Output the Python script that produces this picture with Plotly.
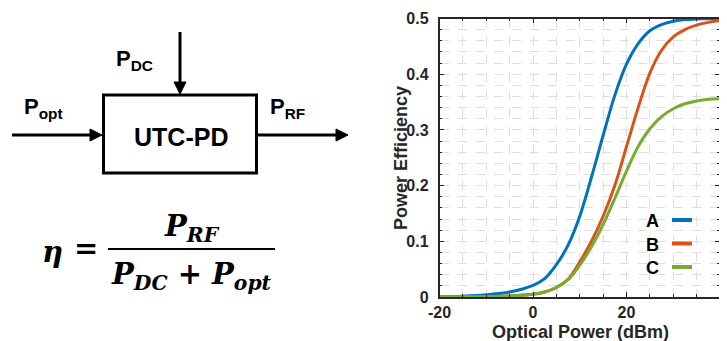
import plotly.graph_objects as go

# page body has an 8px margin: the figure is shifted by OFF inside the 727x341 window
OFF = 8
W, H = 727 - OFF, 341 - OFF

# ---------------- data ----------------
optical_power_dbm = [-20, -15, -10, -5, 0, 2.5, 5, 7.5, 10, 12.5, 15, 17.5, 20,
                     22.5, 25, 27.5, 30, 32.5, 35, 37.5, 40]
eff_A = [0.0006, 0.0015, 0.004, 0.009, 0.021, 0.033, 0.058, 0.093, 0.145, 0.215,
         0.29, 0.362, 0.418, 0.455, 0.478, 0.489, 0.495, 0.498, 0.499, 0.4995, 0.5]
eff_B = [0.0001, 0.0003, 0.0008, 0.002, 0.005, 0.009, 0.017, 0.032, 0.063, 0.1,
         0.145, 0.2, 0.27, 0.34, 0.402, 0.443, 0.467, 0.48, 0.488, 0.493, 0.496]
eff_C = [0.0001, 0.0003, 0.0008, 0.002, 0.005, 0.009, 0.017, 0.031, 0.057, 0.09,
         0.13, 0.177, 0.226, 0.27, 0.302, 0.324, 0.338, 0.347, 0.352, 0.355, 0.356]
series_names = ["A", "B", "C"]
series_colors = ["#0072BD", "#D95319", "#77AC30"]
x_ticks = [-20, 0, 20, 40]
y_ticks = [0, 0.1, 0.2, 0.3, 0.4, 0.5]

SANS = "Liberation Sans, Arial, sans-serif"
SERIF = "DejaVu Serif, serif"
INK = "#000000"
AX = "#262626"


def px(x):
    return (x - OFF) / W


def py(y):
    return 1 - (y - OFF) / H


fig = go.Figure()

for name, vals, col in zip(series_names, [eff_A, eff_B, eff_C], series_colors):
    fig.add_trace(go.Scatter(x=optical_power_dbm, y=vals, mode="lines", name=name,
                             line=dict(color=col, width=3, shape="spline", smoothing=1.0),
                             showlegend=False, hoverinfo="skip"))

grid = dict(showgrid=True, gridcolor="#dedede", griddash="dash", gridwidth=1)
fig.update_layout(
    width=W, height=H, margin=dict(l=0, r=0, t=0, b=0, pad=0),
    paper_bgcolor="white", plot_bgcolor="white",
    xaxis=dict(domain=[px(439.5), px(720)], range=[-20, 40], tickvals=x_ticks,
               ticktext=[f"<b>{v}</b>" for v in x_ticks], automargin=False,
               ticks="inside", ticklen=5, tickwidth=1.2, tickcolor=AX,
               showline=True, linecolor=AX, linewidth=1.5, mirror="ticks",
               zeroline=False, tickfont=dict(family=SANS, size=16, color=AX),
               minor=dict(dtick=5, ticks="inside", ticklen=3, tickcolor=AX, showgrid=True,
                          gridcolor="#dedede", griddash="dash"),
               **grid),
    yaxis=dict(domain=[py(297), py(18.5)], range=[0, 0.5], tickvals=y_ticks,
               ticktext=["<b>0</b>"] + [f"<b>{v}</b>" for v in y_ticks[1:]], automargin=False,
               ticks="inside", ticklen=5, tickwidth=1.2, tickcolor=AX, ticklabelstandoff=6,
               showline=True, linecolor=AX, linewidth=1.5, mirror="ticks",
               zeroline=False, tickfont=dict(family=SANS, size=16, color=AX),
               minor=dict(dtick=0.02, ticks="inside", ticklen=3, tickcolor=AX, showgrid=True,
                          gridcolor="#dedede", griddash="dash"),
               **grid),
)

shapes = []
annotations = []

# axis titles
annotations.append(dict(x=px(580), y=py(332), xref="paper", yref="paper",
                        text="<b>Optical Power (dBm)</b>", showarrow=False, xanchor="center",
                        yanchor="middle", font=dict(family=SANS, size=18, color=AX)))
annotations.append(dict(x=px(401), y=py(158), xref="paper", yref="paper", textangle=-90,
                        text="<b>Power Efficiency</b>", showarrow=False, xanchor="center",
                        yanchor="middle", font=dict(family=SANS, size=18, color=AX)))

# legend (drawn manually: letter then line sample)
for i, (name, col) in enumerate(zip(series_names, series_colors)):
    yy = 221 + i * 23.5
    annotations.append(dict(x=px(652), y=py(yy), xref="paper", yref="paper",
                            text=f"<b>{name}</b>", showarrow=False, xanchor="center",
                            yanchor="middle", font=dict(family=SANS, size=18, color=INK)))
    shapes.append(dict(type="line", xref="paper", yref="paper", x0=px(672), x1=px(692),
                       y0=py(yy - 1), y1=py(yy - 1), line=dict(color=col, width=4)))

# block diagram
shapes.append(dict(type="rect", xref="paper", yref="paper", x0=px(103.5), x1=px(256.5),
                   y0=py(95), y1=py(173), line=dict(color=INK, width=3)))


def arrow(x0, y0, x1, y1, head=12, half=6):
    # line + filled triangle head, pixel coords
    dx, dy = x1 - x0, y1 - y0
    L = (dx * dx + dy * dy) ** 0.5
    ux, uy = dx / L, dy / L
    bx, by = x1 - ux * head, y1 - uy * head
    shapes.append(dict(type="line", xref="paper", yref="paper", x0=px(x0), y0=py(y0),
                       x1=px(bx + ux * 1), y1=py(by + uy * 1), line=dict(color=INK, width=3)))
    nx, ny = -uy, ux
    p1 = (bx + nx * half, by + ny * half)
    p2 = (bx - nx * half, by - ny * half)
    path = f"M {px(x1)} {py(y1)} L {px(p1[0])} {py(p1[1])} L {px(p2[0])} {py(p2[1])} Z"
    shapes.append(dict(type="path", xref="paper", yref="paper", path=path,
                       fillcolor=INK, line=dict(color=INK, width=1)))


arrow(12, 135, 102, 135)
arrow(180, 32, 180, 94)
arrow(257, 135, 348, 135)

annotations.append(dict(x=px(181), y=py(137), xref="paper", yref="paper", text="<b>UTC-PD</b>",
                        showarrow=False, xanchor="center", yanchor="middle",
                        font=dict(family=SANS, size=25, color=INK)))
for txt, x, y in [("<b>P<sub>DC</sub></b>", 114, 60), ("<b>P<sub>opt</sub></b>", 21.5, 108),
                  ("<b>P<sub>RF</sub></b>", 268, 108)]:
    annotations.append(dict(x=px(x), y=py(y), xref="paper", yref="paper", text=txt,
                            showarrow=False, xanchor="left", yanchor="middle",
                            font=dict(family=SANS, size=22, color=INK)))

# equation
annotations.append(dict(x=px(52), y=py(252), xref="paper", yref="paper", text="<b><i>η</i></b>",
                        showarrow=False, xanchor="center", yanchor="middle",
                        font=dict(family=SERIF, size=29, color=INK)))
annotations.append(dict(x=px(86), y=py(248), xref="paper", yref="paper", text="<b>=</b>",
                        showarrow=False, xanchor="center", yanchor="middle",
                        font=dict(family=SERIF, size=29, color=INK)))
shapes.append(dict(type="line", xref="paper", yref="paper", x0=px(108), x1=px(275),
                   y0=py(249), y1=py(249), line=dict(color=INK, width=1.8)))
annotations.append(dict(x=px(191.5), y=py(228), xref="paper", yref="paper",
                        text="<b><i>P<sub>RF</sub></i></b>",
                        showarrow=False, xanchor="center", yanchor="middle",
                        font=dict(family=SERIF, size=29, color=INK)))
annotations.append(dict(x=px(191), y=py(276), xref="paper", yref="paper",
                        text="<b><i>P<sub>DC</sub> + P<sub>opt</sub></i></b>",
                        showarrow=False, xanchor="center", yanchor="middle",
                        font=dict(family=SERIF, size=29, color=INK)))

fig.update_layout(shapes=shapes, annotations=annotations)
fig.write_html("out.html")
